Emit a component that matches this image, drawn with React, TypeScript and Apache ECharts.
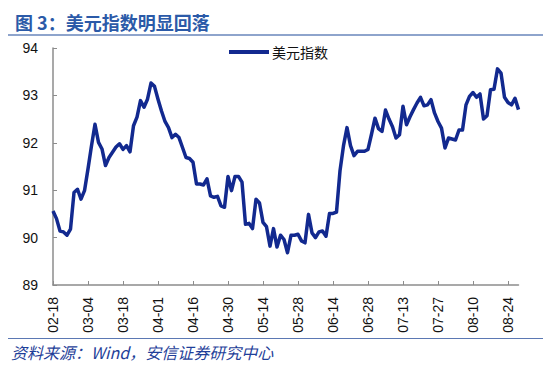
import React, { useEffect, useRef } from "react";
import * as echarts from "echarts";

const titleText = "图 3：美元指数明显回落";
const sourceText = "资料来源：Wind，安信证券研究中心";
const seriesName = "美元指数";

// trading days (2021)
const dates = [
  "02-18","02-19","02-22","02-23","02-24","02-25","02-26",
  "03-01","03-02","03-03","03-04","03-05","03-08","03-09","03-10","03-11","03-12","03-15","03-16","03-17","03-18","03-19","03-22","03-23","03-24","03-25","03-26","03-29","03-30","03-31",
  "04-01","04-05","04-06","04-07","04-08","04-09","04-12","04-13","04-14","04-15","04-16","04-19","04-20","04-21","04-22","04-23","04-26","04-27","04-28","04-29","04-30",
  "05-03","05-04","05-05","05-06","05-07","05-10","05-11","05-12","05-13","05-14","05-17","05-18","05-19","05-20","05-21","05-24","05-25","05-26","05-27","05-28",
  "06-01","06-02","06-03","06-04","06-07","06-08","06-09","06-10","06-11","06-14","06-15","06-16","06-17","06-18","06-21","06-22","06-23","06-24","06-25","06-28","06-29","06-30",
  "07-01","07-02","07-06","07-07","07-08","07-09","07-12","07-13","07-14","07-15","07-16","07-19","07-20","07-21","07-22","07-23","07-26","07-27","07-28","07-29","07-30",
  "08-02","08-03","08-04","08-05","08-06","08-09","08-10","08-11","08-12","08-13","08-16","08-17","08-18","08-19","08-20","08-23","08-24","08-25","08-26","08-27",
];

const dxy = [
  90.56, 90.40, 90.14, 90.12, 90.05, 90.18, 90.95, 91.02, 90.81, 90.99,
  91.45, 91.94, 92.39, 92.01, 91.87, 91.52, 91.69, 91.80, 91.91, 91.98,
  91.86, 91.94, 91.81, 92.36, 92.54, 92.89, 92.75, 92.92, 93.26, 93.19,
  92.92, 92.67, 92.45, 92.32, 92.11, 92.18, 92.11, 91.90, 91.69, 91.67,
  91.59, 91.13, 91.13, 91.11, 91.24, 90.88, 90.85, 90.87, 90.67, 90.64,
  91.29, 90.99, 91.29, 91.29, 91.17, 90.28, 90.30, 90.19, 90.81, 90.73,
  90.32, 90.23, 89.82, 90.19, 89.80, 90.05, 89.96, 89.68, 90.05, 90.05,
  90.07, 89.93, 89.89, 90.49, 90.10, 90.00, 90.12, 90.14, 90.03, 90.51,
  90.51, 90.54, 91.41, 91.94, 92.32, 91.94, 91.73, 91.82, 91.82, 91.82,
  91.86, 92.18, 92.52, 92.30, 92.24, 92.69, 92.50, 92.34, 92.10, 92.17,
  92.77, 92.38, 92.55, 92.70, 92.84, 92.96, 92.78, 92.80, 92.91, 92.63,
  92.45, 92.31, 91.89, 92.10, 92.08, 92.06, 92.27, 92.27, 92.80, 92.98,
  93.06, 92.96, 93.03, 92.50, 92.57, 93.12, 93.13, 93.56, 93.47, 92.96,
  92.85, 92.80, 92.94, 92.70,
];

const yMin = 89;
const yMax = 94;
const yStep = 1;

export default function App() {
  const ref = useRef<HTMLDivElement>(null);
  useEffect(() => {
    if (!ref.current) return;
    const chart = echarts.init(ref.current, null, { renderer: "svg" });
    const lineColor = "#12298f";
    const axisGray = "#8c8c8c";
    chart.setOption({
      animation: false,
      backgroundColor: "#ffffff",
      title: {
        text: titleText,
        left: 10,
        top: 8,
        textStyle: {
          fontFamily: "Noto Sans CJK SC",
          fontSize: 18,
          fontWeight: "bold",
          color: "#2b5aa8",
        },
      },
      legend: {
        data: [seriesName],
        left: 224,
        top: 40,
        itemWidth: 40,
        itemHeight: 4,
        itemGap: 4,
        icon: "rect",
        textStyle: {
          fontFamily: "Noto Sans CJK SC",
          fontSize: 14,
          color: "#111",
          padding: [0, 0, 0, -2],
        },
      },
      grid: {
        left: 53,
        top: 48,
        right: 31.5,
        bottom: 85,
        containLabel: false,
      },
      xAxis: {
        type: "category",
        data: dates,
        boundaryGap: false,
        axisLine: { show: true, lineStyle: { color: axisGray, width: 1.5 } },
        axisTick: {
          show: true,
          inside: true,
          length: 4,
          interval: 9,
          lineStyle: { color: axisGray, width: 1 },
        },
        axisLabel: {
          interval: 9,
          rotate: 90,
          margin: 12,
          fontFamily: "Liberation Sans",
          fontSize: 14,
          color: "#111",
        },
        splitLine: { show: false },
      },
      yAxis: {
        type: "value",
        min: yMin,
        max: yMax,
        interval: yStep,
        axisLine: { show: true, lineStyle: { color: axisGray, width: 1.5 } },
        axisTick: {
          show: true,
          inside: true,
          length: 4,
          lineStyle: { color: axisGray, width: 1 },
        },
        axisLabel: {
          margin: 15,
          fontFamily: "Liberation Sans",
          fontSize: 14,
          color: "#111",
        },
        splitLine: { show: false },
      },
      series: [
        {
          name: seriesName,
          type: "line",
          data: dxy,
          showSymbol: false,
          symbol: "none",
          lineStyle: { color: lineColor, width: 3.5, join: "round" },
          itemStyle: { color: lineColor },
        },
      ],
      graphic: [
        {
          type: "line",
          shape: { x1: 8, y1: 35, x2: 543, y2: 35 },
          style: { stroke: "#8ea4cc", lineWidth: 2 },
        },
        {
          type: "line",
          shape: { x1: 8, y1: 338.5, x2: 543, y2: 338.5 },
          style: { stroke: "#5b78b3", lineWidth: 1 },
        },
        {
          type: "text",
          left: 11,
          top: 344,
          style: {
            text: sourceText,
            fontFamily: "Noto Sans CJK SC",
            fontSize: 16,
            fontStyle: "italic",
            fill: "#1f3f99",
          },
        },
      ],
    });
    return () => chart.dispose();
  }, []);
  return (
    <div
      ref={ref}
      style={{ position: "absolute", left: 0, top: 0, width: 550, height: 370 }}
    />
  );
}
